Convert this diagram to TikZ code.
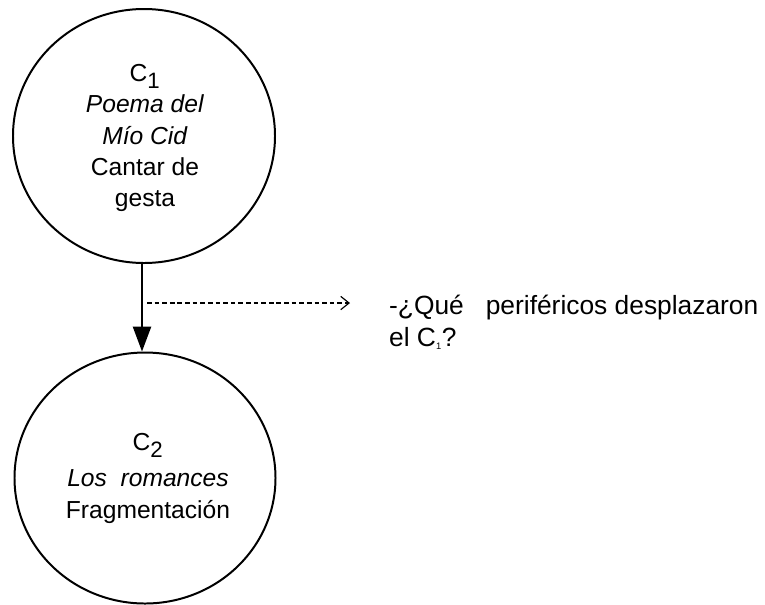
\documentclass[tikz,border=0pt]{standalone}
\usepackage{fontspec}
\setmainfont{Liberation Sans}
\usetikzlibrary{positioning, arrows.meta, shapes.geometric}

\begin{document}
\begin{tikzpicture}[x=0.03cm, y=-0.03cm,
    stage/.style={ellipse, draw=black, line width=1.7pt, inner sep=0pt,
                  minimum width=262*0.03cm, minimum height=254*0.03cm},
    stagetext/.style={align=center, font=\fontsize{21}{26.5}\selectfont},
    arrow/.style={-{Triangle[length=7.5mm, width=6mm, angle'=40]}, line width=1.7pt},
    dasharrow/.style={-{Straight Barb[length=2.5mm, width=4mm]}, dashed, dash pattern=on 4pt off 2.5pt, line width=1pt}
]
    \useasboundingbox (0,0) rectangle (765,604);

    % Circle 1
    \node[stage] (c1) at (144,136) {};
    \node[stagetext] (t1) at ([xshift=1*0.03cm, yshift=-2*0.03cm]c1.center)
        {C\textsubscript{\fontsize{19}{19}\selectfont 1}\\
        \textit{Poema del}\\[1pt] \textit{Mío Cid}\\ Cantar de\\ gesta};

    % Circle 2
    \node[stage, minimum width=261*0.03cm, minimum height=251*0.03cm] (c2) at (145,478) {};
    \node[stagetext] (t2) at ([xshift=3*0.03cm, yshift=0*0.03cm]c2.center)
        {C\textsubscript{\fontsize{19}{19}\selectfont 2}\\[5pt]
        \textit{Los\ \ romances}\\ Fragmentación};

    % Question
    \node[anchor=north west, align=left, font=\fontsize{22.5}{27}\selectfont] (q) at (385,291)
        {-¿Qué\ \ \ periféricos desplazaron\\ el C\textsubscript{\fontsize{8}{8}\selectfont 1}?};

    % Arrows
    \coordinate (top) at (142,263);
    \coordinate (split) at (147,303);
    \coordinate (qend) at (350,303);
    \draw[arrow] (top) -- (top |- c2.north);
    \draw[dasharrow] (split) -- (qend);

\end{tikzpicture}
\end{document}
